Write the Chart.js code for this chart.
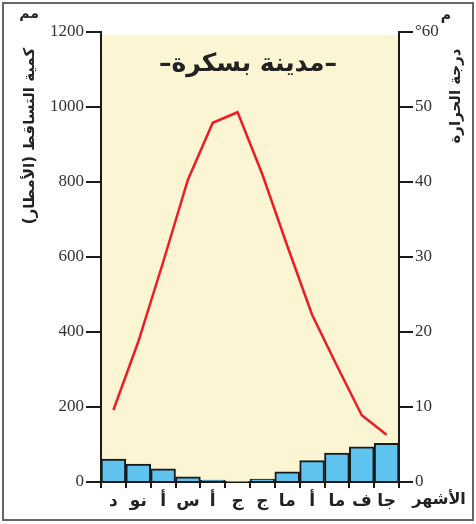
<!DOCTYPE html>
<html>
<head>
<meta charset="utf-8">
<script src="https://cdn.jsdelivr.net/npm/chart.js@4.4.1/dist/chart.umd.min.js"></script>
<style>
  body { margin: 0; background: #fff; }
  canvas { display: block; }
</style>
</head>
<body>
<canvas id="climate" width="476" height="524"></canvas>
<script>
'use strict'

//Data ---------------------------------------------------------
// months from January to December (axis is drawn right to left)
const months = ['جا', 'ف', 'ما', 'أ', 'ما', 'ج', 'ج', 'أ', 'س', 'أ', 'نو', 'د'];
const rainfall = [103, 94, 77, 57, 27, 8, 1, 5, 14, 35, 48, 61];
const temperature = [6.3, 8.9, 15.5, 22.3, 31.5, 41, 49.3, 47.9, 40.3, 29.3, 18.7, 9.6];
const rainTicks = [0, 200, 400, 600, 800, 1000, 1200];
const tempTicks = [0, 10, 20, 30, 40, 50, 60];

const chartTitle = '–مدينة بسكرة–';
const rainTitle = 'كمية التساقط (الأمطار)';
const tempTitle = 'درجة الحرارة';
const monthsTitle = 'الأشهر';

const arabicFont = '"DejaVu Sans", sans-serif';
const numberFont = '"Liberation Serif", serif';

//Plugins ---------------------------------------------------------
const extras = {
  id: 'extras',
  beforeDraw(chart) {
    const { ctx, chartArea } = chart;
    ctx.save();
    ctx.fillStyle = '#fbf5d3';
    ctx.fillRect(chartArea.left, chartArea.top + 3, chartArea.right - chartArea.left, chartArea.bottom - chartArea.top - 3);
    ctx.restore();
  },
  afterDraw(chart) {
    const { ctx, chartArea } = chart;
    ctx.save();
    ctx.fillStyle = '#222';
    ctx.textAlign = 'center';
    ctx.textBaseline = 'middle';

    // title inside the plot
    ctx.font = 'bold 25px ' + arabicFont;
    ctx.fillText(chartTitle, (chartArea.left + chartArea.right) / 2 - 2, 64);

    // left axis title
    ctx.font = 'bold 15px ' + arabicFont;
    ctx.save();
    ctx.translate(30, 136);
    ctx.rotate(-Math.PI / 2);
    ctx.fillText(rainTitle, 0, 0);
    ctx.restore();

    // right axis title
    ctx.save();
    ctx.translate(456, 96);
    ctx.rotate(-Math.PI / 2);
    ctx.fillText(tempTitle, 0, 0);
    ctx.restore();

    // units
    ctx.font = 'bold 14px ' + arabicFont;
    ctx.fillText('مم', 29, 14);
    ctx.fillText('م', 446, 16);

    // months label
    ctx.font = 'bold 16px ' + arabicFont;
    ctx.fillText(monthsTitle, 439, 500);

    // outer frame
    ctx.strokeStyle = '#666';
    ctx.lineWidth = 2;
    ctx.strokeRect(3, 3, 470, 517);
    ctx.restore();
  }
};

//Chart ---------------------------------------------------------
const ctx = document.getElementById('climate').getContext('2d');

const climateChart = new Chart(ctx, {
  data: {
    labels: months,
    datasets: [
      {
        type: 'line',
        data: temperature,
        yAxisID: 'y1',
        borderColor: '#ee1d25',
        borderWidth: 2.5,
        pointRadius: 0,
        tension: 0,
        order: 0
      },
      {
        type: 'bar',
        data: rainfall,
        yAxisID: 'y',
        backgroundColor: '#5ec3ef',
        borderColor: '#1a1a1a',
        borderWidth: 2,
        barPercentage: 1,
        categoryPercentage: 1,
        order: 1
      }
    ]
  },
  options: {
    responsive: false,
    animation: false,
    layout: { padding: { top: 32 } },
    plugins: {
      legend: { display: false },
      tooltip: { enabled: false }
    },
    scales: {
      x: {
        type: 'category',
        reverse: true,
        offset: true,
        afterFit: (scale) => { scale.height = 42; },
        grid: {
          offset: true,
          drawOnChartArea: false,
          color: '#1a1a1a',
          lineWidth: 2,
          tickLength: 6
        },
        border: { color: '#1a1a1a', width: 2 },
        ticks: {
          color: '#222',
          padding: 3,
          autoSkip: false,
          maxRotation: 0,
          font: { family: arabicFont, size: 17, weight: 'bold' }
        }
      },
      y: {
        position: 'left',
        min: 0,
        max: 1200,
        afterFit: (scale) => { scale.width = 101; },
        afterBuildTicks: (scale) => { scale.ticks = rainTicks.map(v => ({ value: v })); },
        grid: {
          drawOnChartArea: false,
          color: '#1a1a1a',
          lineWidth: 2,
          tickLength: 15
        },
        border: { color: '#1a1a1a', width: 2 },
        ticks: {
          color: '#333',
          padding: 2,
          font: { family: numberFont, size: 17 },
          callback: (value) => String(value)
        }
      },
      y1: {
        position: 'right',
        min: 0,
        max: 60,
        afterFit: (scale) => { scale.width = 77; },
        afterBuildTicks: (scale) => { scale.ticks = tempTicks.map(v => ({ value: v })); },
        grid: {
          drawOnChartArea: false,
          color: '#1a1a1a',
          lineWidth: 2,
          tickLength: 14
        },
        border: { color: '#1a1a1a', width: 2 },
        ticks: {
          color: '#333',
          padding: 2,
          font: { family: numberFont, size: 17 },
          callback: (value) => value === 60 ? '°60' : String(value)
        }
      }
    }
  },
  plugins: [extras]
});
</script>
</body>
</html>
